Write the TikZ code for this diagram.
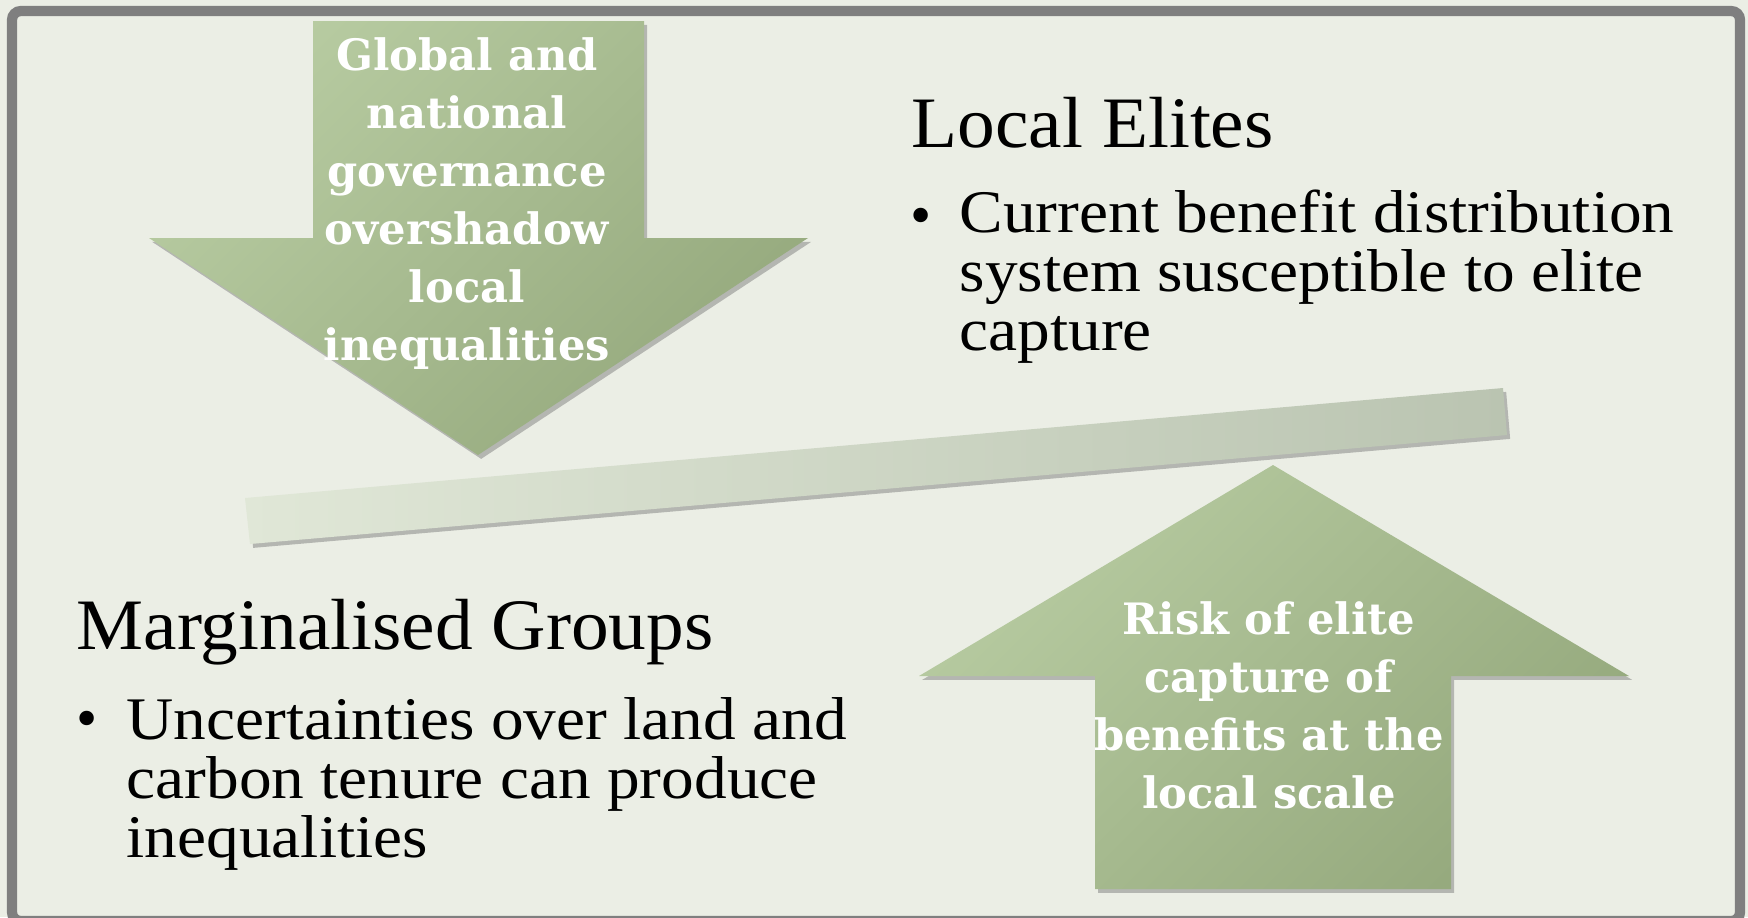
\documentclass[tikz,border=0pt]{standalone}
\usepackage{fontspec}
\setmainfont{Liberation Serif}
\newfontfamily\bodyfont{Liberation Serif}[FakeStretch=1.08]
\newfontfamily\headfont{Liberation Serif}[FakeStretch=1.04]
\newfontfamily\arrowfont{DejaVu Serif}
\usetikzlibrary{shadows}

\definecolor{pagebg}{RGB}{235,238,229}
\definecolor{framegray}{RGB}{127,127,127}
\definecolor{arrowlight}{RGB}{183,203,161}
\definecolor{arrowdark}{RGB}{149,169,125}
\definecolor{barlight}{RGB}{224,231,215}
\definecolor{bardark}{RGB}{186,196,177}

\tikzset{
  softshadow/.style={drop shadow={shadow xshift=0.9pt, shadow yshift=-1.1pt, opacity=0.45, fill=black!55}},
  greenarrow/.style={softshadow, top color=arrowlight, bottom color=arrowdark, shading angle=45, draw=none},
  tiltbar/.style={softshadow, left color=barlight, right color=bardark, draw=none},
  heading/.style={inner sep=0pt, anchor=base west, font=\headfont\fontsize{20.6}{24}\selectfont},
  % multi-line nodes are placed by the baseline of their last line
  bodytext/.style={inner sep=0pt, anchor=base west, align=left, font=\bodyfont\fontsize{17.2}{16.64}\selectfont},
  bulletmark/.style={inner sep=0pt, anchor=base west, font=\fontsize{17.2}{16.64}\selectfont},
  arrowtext/.style={inner sep=0pt, anchor=base, align=center, text=white, font=\arrowfont\bfseries\fontsize{12.3}{16.45}\selectfont}
}

\begin{document}
\begin{tikzpicture}[x=0.01cm, y=-0.01cm]
  % page and frame
  \fill[pagebg] (0,0) rectangle (1748,917);
  \useasboundingbox (0,0) rectangle (1748,917);
  \draw[framegray, line width=2.9pt, rounded corners=2.5pt] (12,11) rectangle (1740,921);

  % tilted bar
  \path[tiltbar] (245,498) -- (1503,388) -- (1507,435) -- (250,544) -- cycle;

  % downward arrow
  \path[greenarrow] (313,21) -- (644,21) -- (644,238) -- (808,238) -- (478,455)
        -- (149,238) -- (313,238) -- cycle;

  % upward arrow
  \path[greenarrow] (1273,465) -- (1629,676) -- (1451,676) -- (1451,889)
        -- (1095,889) -- (1095,676) -- (919,676) -- cycle;

  % arrow labels
  \node[arrowtext] (downlabel) at (467,360)
    {Global and\\national\\governance\\overshadow\\local\\inequalities};
  \node[arrowtext] (uplabel) at (1269,808)
    {Risk of elite\\capture of\\benefits at the\\local scale};

  % local elites block
  \node[heading] (elites) at (911,147) {Local Elites};
  \node[bulletmark] (elitesbullet) at (910,235) {\textbullet};
  \node[bodytext] (elitestext) at (959,350)
    {Current benefit distribution\\system susceptible to elite\\capture};

  % marginalised groups block
  \node[heading] (groups) at (76,649) {Marginalised Groups};
  \node[bulletmark] (groupsbullet) at (76,738) {\textbullet};
  \node[bodytext] (groupstext) at (126,857)
    {Uncertainties over land and\\carbon tenure can produce\\inequalities};
\end{tikzpicture}
\end{document}
